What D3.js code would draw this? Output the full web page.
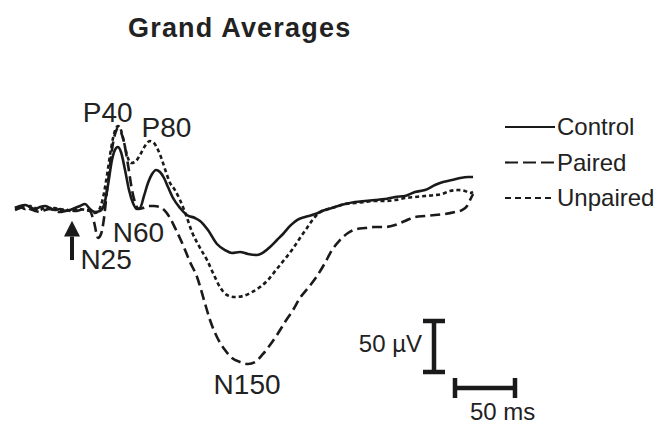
<!DOCTYPE html>
<html>
<head>
<meta charset="utf-8">
<script src="https://cdn.jsdelivr.net/npm/d3@7"></script>
<style>
  body { margin: 0; background: #fff; }
  text { font-family: "Liberation Sans", Arial, sans-serif; fill: #222; }
</style>
</head>
<body>
<div id="my_dataviz"></div>
<script>
var width = 670, height = 426;

// time (ms) after stimulus, amplitude (µV)
var control = [
  [-47.5, 0], [-43.3, 2], [-39.2, 2.9], [-35, 1], [-30.8, -1], [-26.7, 1], [-22.5, 2],
  [-18.3, 0], [-14.2, -2], [-10, -1], [-5.8, -2.9], [-1.7, -2], [2.5, 0], [6.7, 2],
  [10.8, 3.9], [15, -1], [19.2, -3.9], [23.3, -2.9], [26.7, 2.9], [30, 22.5], [33.3, 47],
  [36.7, 58.8], [38.3, 59.8], [40.8, 54.9], [44.2, 37.3], [47.5, 17.6], [50.8, 4.9],
  [54.2, -1], [56.7, 0], [60, 11.8], [63.3, 24.5], [66.7, 33.3], [70, 37.3], [73.3, 35.3],
  [76.7, 29.4], [80, 20.6], [84.2, 9.8], [90, 0], [95.8, -6.9], [102.5, -9.8], [106.7, -12.7],
  [113.3, -21.6], [120.8, -35.3], [127.5, -41.2], [133.3, -44.1], [140, -43.1], [146.7, -45.1],
  [154.2, -46.1], [160, -43.1], [165, -38.2], [170.8, -31.4], [175.8, -25.5], [181.7, -17.6],
  [187.5, -11.8], [194.2, -8.8], [200, -6.9], [205, -4.9], [210.8, -2], [219.2, 1],
  [227.5, 3.9], [235.8, 5.9], [244.2, 6.9], [252.5, 7.8], [260.8, 8.8], [269.2, 10.8],
  [277.5, 11.8], [285.8, 15.7], [294.2, 17.6], [302.5, 22.5], [309.2, 25.5], [316.7, 27.5],
  [323.3, 29.4], [330, 30.4], [334.2, 30.4]
];

var paired = [
  [-47.5, -2], [-43.3, 0], [-39.2, 1], [-35, -1], [-30.8, -2.9], [-26.7, -3.9], [-22.5, -2],
  [-18.3, -1], [-14.2, -2.9], [-10, -3.9], [-5.8, -2.9], [-1.7, -2], [2.5, -2.9], [6.7, -2],
  [10.8, -1], [15, -2.9], [18.3, -13.7], [21.7, -29.4], [24.2, -25.5], [26.7, -9.8],
  [29.2, 17.6], [31.7, 42.2], [34.2, 63.7], [36.7, 75.5], [38.3, 78.4], [40.8, 74.5],
  [43.3, 64.7], [46.7, 42.2], [50, 17.6], [53.3, 2.9], [55.8, -1], [59.2, 0], [63.3, 2],
  [68.3, 2], [73.3, 1], [77.5, -2.9], [81.7, -9.8], [86.7, -21.6], [92.5, -36.3],
  [98.3, -52.9], [104.2, -67.6], [110, -90.2], [115, -109.8], [120.8, -126.5],
  [127.5, -139.2], [133.3, -147.1], [140, -151], [146.7, -152.9], [152.5, -151],
  [159.2, -143.1], [165, -134.3], [170.8, -124.5], [177.5, -111.8], [184.2, -100],
  [190, -88.2], [196.7, -78.4], [204.2, -66.7], [210.8, -53.9], [216.7, -41.2],
  [223.3, -31.4], [230, -24.5], [237.5, -20.6], [244.2, -19.6], [252.5, -18.6],
  [260.8, -18.6], [269.2, -16.7], [277.5, -12.7], [285.8, -8.8], [294.2, -7.8],
  [302.5, -6.9], [310.8, -5.9], [319.2, -3.9], [325, -2], [329.2, 2], [331.7, 7.8],
  [334.2, 13.7]
];

var unpaired = [
  [-47.5, 0], [-43.3, 1], [-39.2, -1], [-35, 2], [-30.8, 0], [-26.7, -2], [-22.5, 1],
  [-18.3, -1], [-14.2, 0], [-10, -2], [-5.8, -1], [-1.7, -2.9], [2.5, -2], [6.7, -1],
  [10.8, -2], [15, -2.9], [19.2, -4.9], [22.5, -2], [25.8, 9.8], [29.2, 32.4], [31.7, 52],
  [34.2, 68.6], [36.7, 78.4], [38.3, 80.4], [40.8, 76.5], [43.3, 64.7], [45.8, 52],
  [49.2, 44.1], [52.5, 45.1], [56.7, 52], [60.8, 60.8], [65, 65.7], [68.3, 63.7],
  [71.7, 56.9], [75, 47.1], [78.3, 35.3], [81.7, 24.5], [85.8, 17.6], [90, 7.8], [95, -6.9],
  [100, -23.5], [106.7, -39.2], [112.5, -51], [118.3, -65.7], [123.3, -77.5], [129.2, -85.3],
  [135.8, -87.3], [142.5, -86.3], [150, -82.4], [156.7, -77.5], [163.3, -70.6], [170, -60.8],
  [176.7, -51], [183.3, -41.2], [190, -29.4], [195.8, -19.6], [201.7, -9.8], [206.7, -3.9],
  [213.3, -1], [219.2, 1], [227.5, 3.9], [235.8, 4.9], [244.2, 5.9], [252.5, 6.9],
  [260.8, 6.9], [269.2, 7.8], [277.5, 9.8], [285.8, 10.8], [294.2, 11.8], [302.5, 12.7],
  [308.3, 13.7], [315, 16.7], [321.7, 17.6], [327.5, 16.7], [331.7, 14.7], [334.2, 15.7]
];

var seriesNames = ["Control", "Paired", "Unpaired"];
var dashes = [null, "10,5", "4,3"];
var legendDashes = [null, "13,5", "6,4"];

// component labels: [name, ms, µV]
var peaks = [
  ["P40", 9, 84],
  ["P80", 58, 70],
  ["N60", 34, -33],
  ["N25", 7, -60],
  ["N150", 118, -182]
];

var svg = d3.select("#my_dataviz")
  .append("svg")
    .attr("width", width)
    .attr("height", height);

var x = d3.scaleLinear()
  .domain([-50, 335])
  .range([12, 474]);

var y = d3.scaleLinear()
  .domain([-150, 100])
  .range([361, 106]);

var line = d3.line()
  .x(function(d) { return x(d[0]); })
  .y(function(d) { return y(d[1]); })
  .curve(d3.curveMonotoneX);

svg.append("text")
  .attr("x", 128)
  .attr("y", 37)
  .attr("font-size", 27)
  .attr("font-weight", "bold")
  .attr("letter-spacing", 1.2)
  .text("Grand Averages");

[control, paired, unpaired].forEach(function(data, i) {
  svg.append("path")
    .datum(data)
    .attr("fill", "none")
    .attr("stroke", "#1a1a1a")
    .attr("stroke-width", 2.6)
    .attr("stroke-dasharray", dashes[i])
    .attr("d", line);
});

// stimulus arrow
svg.append("line")
  .attr("x1", x(0)).attr("x2", x(0))
  .attr("y1", y(-28)).attr("y2", y(-51))
  .attr("stroke", "#1a1a1a")
  .attr("stroke-width", 4);
svg.append("path")
  .attr("d", "M" + (x(0) - 8) + "," + y(-28) + "L" + x(0) + "," + y(-12.5) +
             "L" + (x(0) + 8) + "," + y(-28) + "Z")
  .attr("fill", "#1a1a1a");

svg.selectAll(".peak")
  .data(peaks)
  .enter().append("text")
    .attr("class", "peak")
    .attr("x", function(d) { return x(d[1]); })
    .attr("y", function(d) { return y(d[2]); })
    .attr("font-size", 28)
    .text(function(d) { return d[0]; });

// legend
var legend = svg.selectAll(".legend")
  .data(seriesNames)
  .enter().append("g")
    .attr("class", "legend")
    .attr("transform", function(d, i) { return "translate(505," + (127 + i * 35.5) + ")"; });

legend.append("line")
  .attr("x1", 0).attr("x2", 50)
  .attr("stroke", "#1a1a1a")
  .attr("stroke-width", 2.2)
  .attr("stroke-dasharray", function(d, i) { return legendDashes[i]; });

legend.append("text")
  .attr("x", 52)
  .attr("y", 8)
  .attr("font-size", 24)
  .text(function(d) { return d; });

// scale bars: 50 µV and 50 ms
var vx = 434, v0 = 372, v1 = v0 - (y(0) - y(50));
svg.append("path")
  .attr("d", "M" + vx + "," + v0 + "V" + v1 + "M" + (vx - 11) + "," + v0 + "H" + (vx + 11) +
             "M" + (vx - 11) + "," + v1 + "H" + (vx + 11))
  .attr("fill", "none")
  .attr("stroke", "#1a1a1a")
  .attr("stroke-width", 4.5);
svg.append("text")
  .attr("x", vx - 12)
  .attr("y", 352)
  .attr("text-anchor", "end")
  .attr("font-size", 24)
  .text("50 µV");

var hy = 388, h0 = 455, h1 = h0 + (x(50) - x(0));
svg.append("path")
  .attr("d", "M" + h0 + "," + hy + "H" + h1 + "M" + h0 + "," + (hy - 10) + "V" + (hy + 10) +
             "M" + h1 + "," + (hy - 10) + "V" + (hy + 10))
  .attr("fill", "none")
  .attr("stroke", "#1a1a1a")
  .attr("stroke-width", 4.5);
svg.append("text")
  .attr("x", 470)
  .attr("y", 420)
  .attr("font-size", 24)
  .text("50 ms");
</script>
</body>
</html>
